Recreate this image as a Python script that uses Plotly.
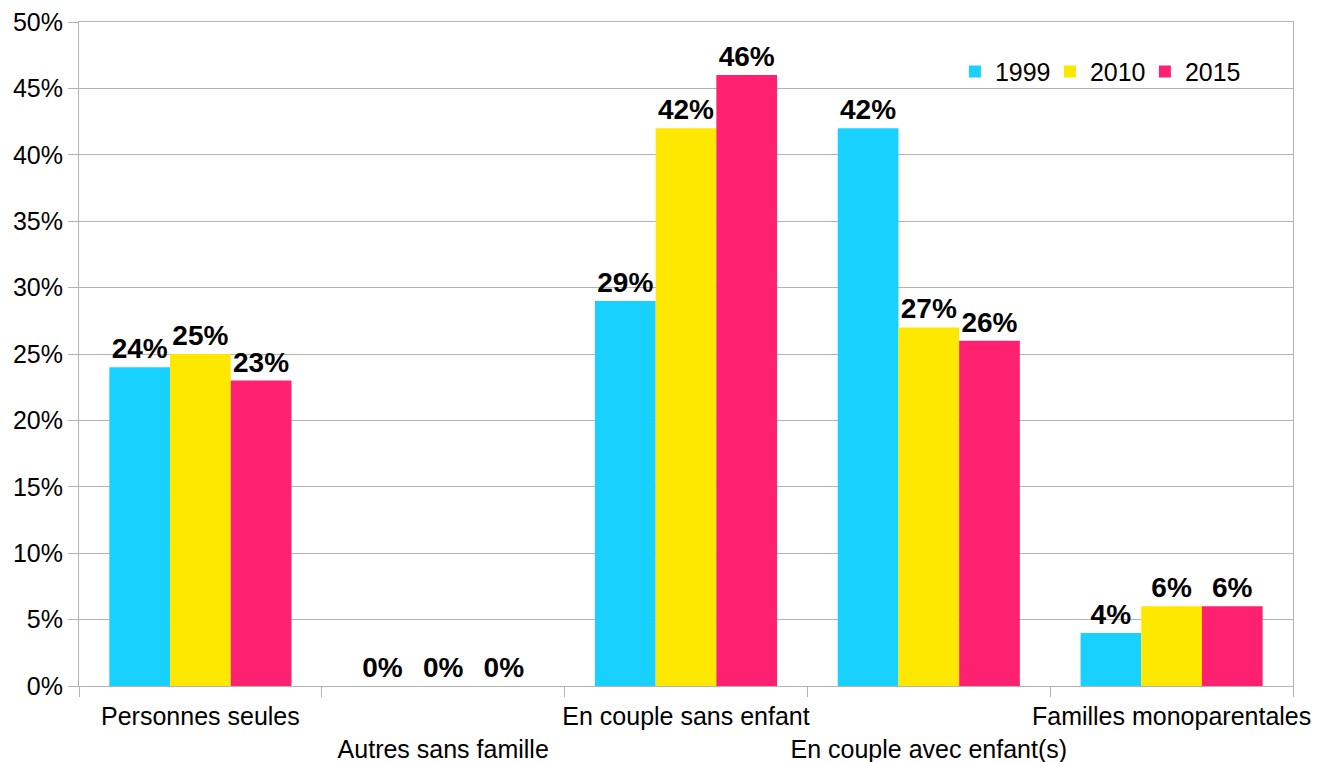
import plotly.graph_objects as go

categories = ["Personnes seules", "Autres sans famille", "En couple sans enfant",
              "En couple avec enfant(s)", "Familles monoparentales"]
tick_labels = ["Personnes seules", "<br>Autres sans famille", "En couple sans enfant",
               "<br>En couple avec enfant(s)", "Familles monoparentales"]
years = ["1999", "2010", "2015"]
v1999 = [24, 0, 29, 42, 4]
v2010 = [25, 0, 42, 27, 6]
v2015 = [23, 0, 46, 26, 6]
colors = ["#18d1ff", "#ffe800", "#ff2170"]
yticks = [0, 5, 10, 15, 20, 25, 30, 35, 40, 45, 50]

FONT = "Liberation Sans, Arial, sans-serif"

fig = go.Figure()
for name, vals, col in zip(years, [v1999, v2010, v2015], colors):
    fig.add_trace(go.Bar(
        x=categories, y=vals, name=name, marker=dict(color=col, line=dict(width=0)),
        text=[f"{v}%" for v in vals],
        texttemplate="<b>%{text}</b>", textposition="outside", constraintext="none",
        textfont=dict(family=FONT, size=28, color="black"), cliponaxis=False,
    ))

fig.update_layout(
    width=1317, height=762,
    margin=dict(l=79, r=24, t=22, b=76, autoexpand=False),
    paper_bgcolor="white", plot_bgcolor="white",
    barmode="group", bargap=0.25, bargroupgap=0,
    font=dict(family=FONT, size=25, color="black"),
    legend=dict(orientation="h", x=0.7215, y=0.925, xanchor="left", yanchor="middle",
                font=dict(family=FONT, size=25), bgcolor="rgba(0,0,0,0)",
                itemclick=False, tracegroupgap=0, entrywidth=50),
    showlegend=True,
)
fig.update_xaxes(
    type="category", tickmode="array", tickvals=categories, ticktext=tick_labels,
    tickson="boundaries", ticks="outside", ticklen=10, tickcolor="#b3b3b3",
    tickangle=0, automargin=False, ticklabelstandoff=8,
    showline=True, linecolor="#b3b3b3", linewidth=1, mirror=True,
    showgrid=False, tickfont=dict(family=FONT, size=25, color="black"),
)
fig.update_yaxes(
    range=[0, 50], tickmode="array", tickvals=yticks,
    ticktext=[f"{v}%" for v in yticks], automargin=False,
    ticks="outside", ticklen=10, tickcolor="#b3b3b3",
    showline=True, linecolor="#b3b3b3", linewidth=1, mirror=True,
    showgrid=True, gridcolor="#b3b3b3", gridwidth=1, zeroline=False,
    tickfont=dict(family=FONT, size=25, color="black"),
)

fig.write_html("out.html")
